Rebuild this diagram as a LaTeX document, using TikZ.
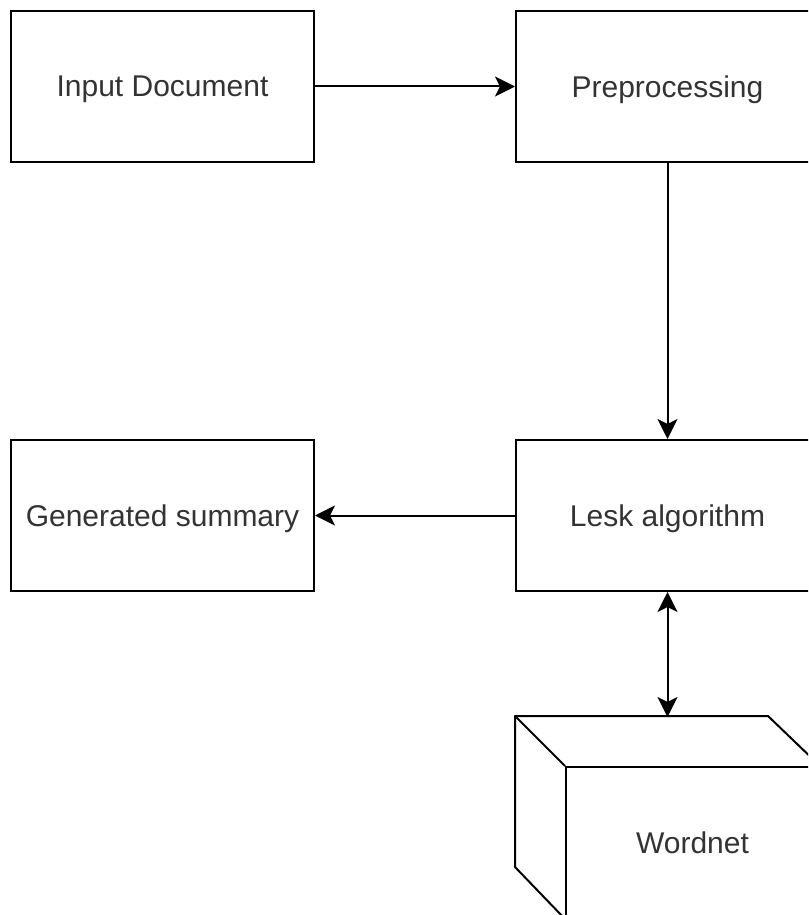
\documentclass[tikz,border=0pt]{standalone}
\usepackage{fontspec}
\setmainfont{Liberation Sans}
\usetikzlibrary{arrows.meta}

\begin{document}
\begin{tikzpicture}[x=1pt,y=-1pt,
    box/.style={draw,line width=2pt,minimum width=303pt,minimum height=151pt,
      inner sep=0pt,text depth=0pt,text=black!80,font=\fontsize{30}{35}\selectfont},
    tip/.tip={Stealth[length=20pt,width=20pt,inset=5pt]},
    conn/.style={line width=2pt,-tip}]
  % cadru (imaginea originala e taiata la dreapta si jos)
  \clip (0,0) rectangle (808,915);

  % cele patru casete
  \node[box] (input) at (162.5,86.5) {Input Document};
  \node[box] (prep)  at (667.5,86.5) {Preprocessing};
  \node[box] (lesk)  at (667.5,515.5) {Lesk algorithm};
  \node[box] (summ)  at (162.5,515.5) {Generated summary};

  % cubul Wordnet (fata din fata + laturile)
  \node[box,minimum width=253pt] (wordnet) at (692.5,842.5) {Wordnet};
  \coordinate (wtop) at (667.5,717);
  \draw[line width=2pt,line join=round]
    (wordnet.north west) -- ++(-50,-50) coordinate (wback) -- ++(253,0) -- (wordnet.north east);
  \draw[line width=2pt,line join=round]
    (wback) -- ++(0,151) -- (wordnet.south west);

  % sagetile
  \draw[conn] (input) -- (prep);
  \draw[conn] (prep) -- (lesk);
  \draw[conn] (lesk) -- (summ);
  \draw[conn,tip-tip] (lesk) -- (wtop);
\end{tikzpicture}
\end{document}
